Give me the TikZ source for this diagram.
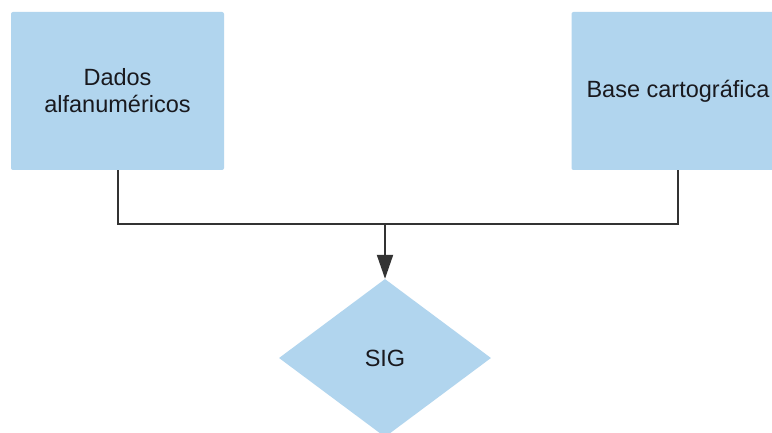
\documentclass[tikz,border=0pt]{standalone}
\usepackage{fontspec}
\setmainfont{Liberation Sans}
\usetikzlibrary{shapes.geometric,arrows.meta}
\definecolor{boxblue}{RGB}{177,213,238}
\definecolor{linedark}{RGB}{51,51,51}
\definecolor{textdark}{RGB}{25,25,30}
\begin{document}
\begin{tikzpicture}[x=1pt,y=-1pt,
  label text/.style={font=\fontsize{23.5}{27}\selectfont, text=textdark, align=center},
  block/.style={label text, fill=boxblue, draw=none, rounded corners=2pt,
    minimum width=213pt, minimum height=158pt, inner sep=0pt},
  decision/.style={label text, diamond, fill=boxblue, draw=none, inner sep=0pt,
    minimum width=212pt, minimum height=158pt},
  link/.style={draw=linedark, line width=2pt},
  flow/.style={link, -{Triangle[length=24pt,width=16pt]}}]
  \useasboundingbox (0,0) rectangle (772,433);
  \clip (0,0) rectangle (772,433);
  \fill[white] (0,0) rectangle (772,433);

  % source blocks
  \node[block] (dados) at (117.5,91) {Dados\\alfanuméricos};
  \node[block] (base) at (678,91) {Base cartográfica};

  % target
  \node[decision] (sig) at (385,358) {SIG};

  % merge of the two inputs
  \coordinate (join) at (385,224);
  \draw[link] (dados.south) |- (join) -| (base.south);
  \draw[flow] (join) -- (sig.north);
\end{tikzpicture}
\end{document}
